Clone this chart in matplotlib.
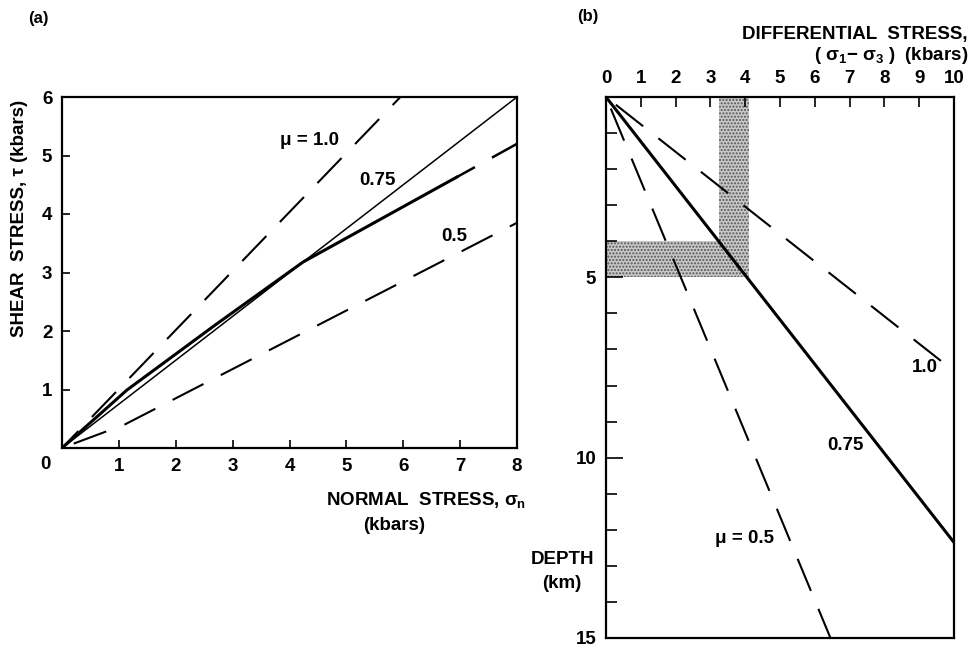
import matplotlib
matplotlib.use('Agg')
import matplotlib.pyplot as plt

plt.rcParams['font.family'] = ['Liberation Sans', 'DejaVu Sans']
plt.rcParams['font.weight'] = 'bold'
plt.rcParams['mathtext.fontset'] = 'custom'
plt.rcParams['mathtext.rm'] = 'Liberation Sans:bold'
plt.rcParams['mathtext.it'] = 'Liberation Sans:bold'
plt.rcParams['lines.scale_dashes'] = False

# (a) shear stress vs normal stress (kbars)
mu10_sn = [0, 5.95]
mu10_tau = [0, 6.0]
mu075_sn = [0, 8]
mu075_tau = [0, 6]
mu05_sn = [0, 1.1, 8]
mu05_tau = [0, 0.4, 3.85]
byerlee_sn = [0, 1.14, 2.69, 4.24, 6.94]
byerlee_tau = [0, 0.99, 2.1, 3.18, 4.63]
byerlee_ext_sn = [6.94, 8]
byerlee_ext_tau = [4.63, 5.2]

# (b) differential stress (kbars) vs depth (km)
b_mu10_ds = [0, 9.8]
b_mu10_depth = [0, 7.45]
b_mu075_ds = [0, 10]
b_mu075_depth = [0, 12.35]
b_mu05_ds = [0, 6.45]
b_mu05_depth = [0, 15]
# shaded L-shaped band
shade_ds = [3.25, 4.1, 4.1, 0, 0, 3.25]
shade_depth = [0, 0, 5, 5, 4, 4]

W, H = 972, 647
dash = (25, 14)
fs = 13.5


def px(x, y):
    return x / W, 1 - y / H


fig = plt.figure(figsize=(9.72, 6.47), dpi=100)

# ---- panel (a)
ax = fig.add_axes([62 / W, 1 - 448 / H, 455 / W, 351 / H])
ax.plot(mu10_sn, mu10_tau, color='k', lw=1.5, linestyle=(8, dash))
ax.plot(mu075_sn, mu075_tau, color='k', lw=1.1)
ax.plot(mu05_sn, mu05_tau, color='k', lw=1.5, linestyle=(30, dash))
ax.plot(byerlee_sn, byerlee_tau, color='k', lw=2.2)
ax.plot(byerlee_ext_sn, byerlee_ext_tau, color='k', lw=1.8, linestyle=(10, dash))
ax.set_xlim(0, 8)
ax.set_ylim(0, 6)
ax.set_xticks(range(1, 9))
ax.set_yticks(range(1, 7))
ax.tick_params(direction='in', length=6, width=1.2, pad=7, labelsize=fs)
for s in ax.spines.values():
    s.set_linewidth(1.6)
ax.annotate('0', (0, 0), xytext=(-12, -12), textcoords='offset points',
            ha='center', va='center', fontsize=fs)
ax.text(4.36, 5.26, '\u03bc = 1.0', fontsize=fs, ha='center', va='center')
ax.text(5.55, 4.58, '0.75', fontsize=fs, ha='center', va='center')
ax.text(6.89, 3.61, '0.5', fontsize=fs, ha='center', va='center')

fig.text(*px(20, 218), 'SHEAR  STRESS, \u03c4 (kbars)', rotation=90,
         ha='center', va='center', fontsize=fs)
fig.text(*px(326, 500), 'NORMAL  STRESS, $\\sigma_n$', ha='left', va='center',
         fontsize=fs)
fig.text(*px(394, 525), '(kbars)', ha='center', va='center', fontsize=fs)
fig.text(*px(38, 18), '(a)', ha='center', va='center', fontsize=12)

# ---- panel (b)
bx = fig.add_axes([606 / W, 1 - 638 / H, 348 / W, 541 / H])
bx.fill(shade_ds, shade_depth, facecolor='#c8c8c8', edgecolor='#555555',
        hatch='.....', lw=0)
bx.plot(b_mu10_ds, b_mu10_depth, color='k', lw=1.5, linestyle=(30, dash))
bx.plot(b_mu075_ds, b_mu075_depth, color='k', lw=2.2)
bx.plot(b_mu05_ds, b_mu05_depth, color='k', lw=1.5, linestyle=(30, dash))
bx.set_xlim(0, 10)
bx.set_ylim(15, 0)
bx.xaxis.tick_top()
bx.set_xticks(range(0, 11))
bx.set_yticks([0, 5, 10, 15], ['', '5', '10', '15'])
bx.set_yticks(range(0, 16), minor=True)
bx.tick_params(axis='x', direction='in', length=7, width=1.2, pad=7,
               labelsize=fs)
bx.tick_params(axis='y', which='major', direction='in', length=12, width=1.2,
               pad=7, labelsize=fs)
bx.tick_params(axis='y', which='minor', direction='in', length=8, width=1.2)
for s in bx.spines.values():
    s.set_linewidth(1.6)
bx.text(9.17, 7.51, '1.0', fontsize=fs, ha='center', va='center')
bx.text(6.87, 9.65, '0.75', fontsize=fs, ha='center', va='center')
bx.text(3.99, 12.23, '\u03bc = 0.5', fontsize=fs, ha='center', va='center')

fig.text(*px(562, 560), 'DEPTH', ha='center', va='center', fontsize=fs)
fig.text(*px(562, 584), '(km)', ha='center', va='center', fontsize=fs)
fig.text(*px(588, 16), '(b)', ha='center', va='center', fontsize=12)
fig.text(*px(968, 35), 'DIFFERENTIAL  STRESS,', ha='right', va='center',
         fontsize=fs)
fig.text(*px(968, 56), '( $\\sigma_1$\u2212 $\\sigma_3$ )  (kbars)', ha='right',
         va='center', fontsize=fs)

fig.savefig('out.png', dpi=100)
